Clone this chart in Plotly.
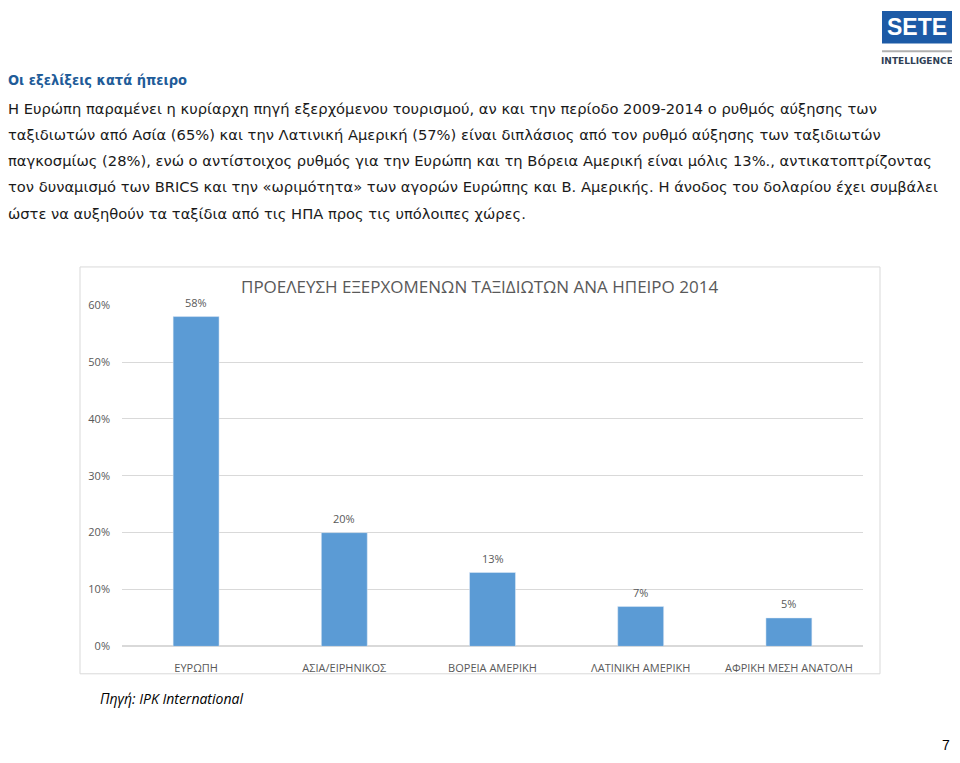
import plotly.graph_objects as go

# data
regions = ["ΕΥΡΩΠΗ", "ΑΣΙΑ/ΕΙΡΗΝΙΚΟΣ", "ΒΟΡΕΙΑ ΑΜΕΡΙΚΗ", "ΛΑΤΙΝΙΚΗ ΑΜΕΡΙΚΗ", "ΑΦΡΙΚΗ ΜΕΣΗ ΑΝΑΤΟΛΗ"]
shares = [58, 20, 13, 7, 5]
y_ticks = [0, 10, 20, 30, 40, 50, 60]

chart_title = "ΠΡΟΕΛΕΥΣΗ ΕΞΕΡΧΟΜΕΝΩΝ ΤΑΞΙΔΙΩΤΩΝ ΑΝΑ ΗΠΕΙΡΟ 2014"
heading = "Οι εξελίξεις κατά ήπειρο"
body_lines = [
    "Η Ευρώπη παραμένει η κυρίαρχη πηγή εξερχόμενου τουρισμού, αν και την περίοδο 2009-2014 ο ρυθμός αύξησης των",
    "ταξιδιωτών από Ασία (65%) και την Λατινική Αμερική (57%) είναι διπλάσιος από τον ρυθμό αύξησης των ταξιδιωτών",
    "παγκοσμίως (28%), ενώ ο αντίστοιχος ρυθμός για την Ευρώπη και τη Βόρεια Αμερική είναι μόλις 13%., αντικατοπτρίζοντας",
    "τον δυναμισμό των BRICS και την «ωριμότητα» των αγορών Ευρώπης και Β. Αμερικής. Η άνοδος του δολαρίου έχει συμβάλει",
    "ώστε να αυξηθούν τα ταξίδια από τις ΗΠΑ προς τις υπόλοιπες χώρες.",
]
source = "Πηγή: IPK International"

W, H = 960, 763
OFFSET = 8  # the page puts the figure 8px in from the top-left corner


def px(x):
    return (x - OFFSET) / W


def py(y):
    return 1 - (y - OFFSET) / H


GREY = "#595959"
CHART_FONT = "Open Sans, Noto Sans, sans-serif"
PAGE_FONT = "DejaVu Sans, Verdana, sans-serif"

fig = go.Figure()
fig.add_trace(go.Bar(x=regions,
                     y=shares,
                     width=0.31,
                     marker_color="#5B9BD5",
                     hovertemplate="%{x}: %{y}%<extra></extra>"))

# data labels above the bars
for region, value in zip(regions, shares):
    fig.add_annotation(x=region, y=value, xref="x", yref="y",
                       text=f"{value}%", showarrow=False,
                       xanchor="center", yanchor="middle", yshift=14,
                       font=dict(size=11, color=GREY, family=CHART_FONT))

fig.update_layout(width=W,
                  height=H,
                  margin=dict(l=0, r=0, t=0, b=0),
                  paper_bgcolor="white",
                  plot_bgcolor="white",
                  showlegend=False,
                  font=dict(family=CHART_FONT, color=GREY))

fig.update_xaxes(domain=[px(122), px(863)],
                 tickfont=dict(size=11, color=GREY),
                 showline=False,
                 ticks="",
                 ticklabelstandoff=14)
fig.update_yaxes(domain=[py(651), py(303)],
                 range=[0, 60],
                 tickvals=y_ticks,
                 ticktext=[f"{v}%" for v in y_ticks],
                 tickfont=dict(size=11, color=GREY),
                 showgrid=True,
                 gridcolor="#d9d9d9",
                 zeroline=True,
                 zerolinecolor="#d9d9d9",
                 ticklabelstandoff=11)

# chart frame
fig.add_shape(type="rect", xref="paper", yref="paper",
              x0=px(80), x1=px(880), y0=py(679), y1=py(264),
              line=dict(color="#d9d9d9", width=1), layer="below")

# chart title
fig.add_annotation(x=px(479.5), y=py(284), xref="paper", yref="paper",
                   xanchor="center", yanchor="middle",
                   text=chart_title, showarrow=False,
                   font=dict(size=17, color=GREY, family=CHART_FONT))

# page heading and body
fig.add_annotation(x=px(8), y=py(73), xref="paper", yref="paper",
                   xanchor="left", yanchor="middle", xshift=-2,
                   text=f"<b>{heading}</b>", showarrow=False,
                   font=dict(size=14.5, color="#1F5C99",
                             family="DejaVu Sans Condensed, DejaVu Sans, sans-serif"))
for i, line in enumerate(body_lines):
    fig.add_annotation(x=px(8), y=py(102 + i * 26.8), xref="paper", yref="paper",
                       xanchor="left", yanchor="middle", xshift=-2,
                       text=line, showarrow=False,
                       font=dict(size=14.7, color="#1a1a1a", family=PAGE_FONT))

# source
fig.add_annotation(x=px(100), y=py(704), xref="paper", yref="paper",
                   xanchor="left", yanchor="middle", xshift=-2,
                   text=f"<i>{source}</i>", showarrow=False,
                   font=dict(size=14, color="black", family=CHART_FONT))

# logo
fig.add_shape(type="rect", xref="paper", yref="paper",
              x0=px(882), x1=px(953), y0=py(36), y1=py(3),
              line=dict(width=0), fillcolor="#1C5AA6")
fig.add_annotation(x=px(917), y=py(19), xref="paper", yref="paper",
                   xanchor="center", yanchor="middle",
                   text="<b>SETE</b>", showarrow=False,
                   font=dict(size=23, color="white", family="Liberation Sans"))
fig.add_shape(type="line", xref="paper", yref="paper",
              x0=px(882), x1=px(953), y0=py(44), y1=py(44),
              line=dict(color="#b0b0b0", width=2))
fig.add_annotation(x=px(917), y=py(54), xref="paper", yref="paper",
                   xanchor="center", yanchor="middle",
                   text="<b>INTELLIGENCE</b>", showarrow=False,
                   font=dict(size=9, color="#2F3F55", family="DejaVu Sans"))

# page number
fig.add_annotation(x=px(946), y=py(752), xref="paper", yref="paper",
                   xanchor="center", yanchor="middle",
                   text="7", showarrow=False,
                   font=dict(size=14, color="black", family="Liberation Sans"))

fig.write_html("out.html")
